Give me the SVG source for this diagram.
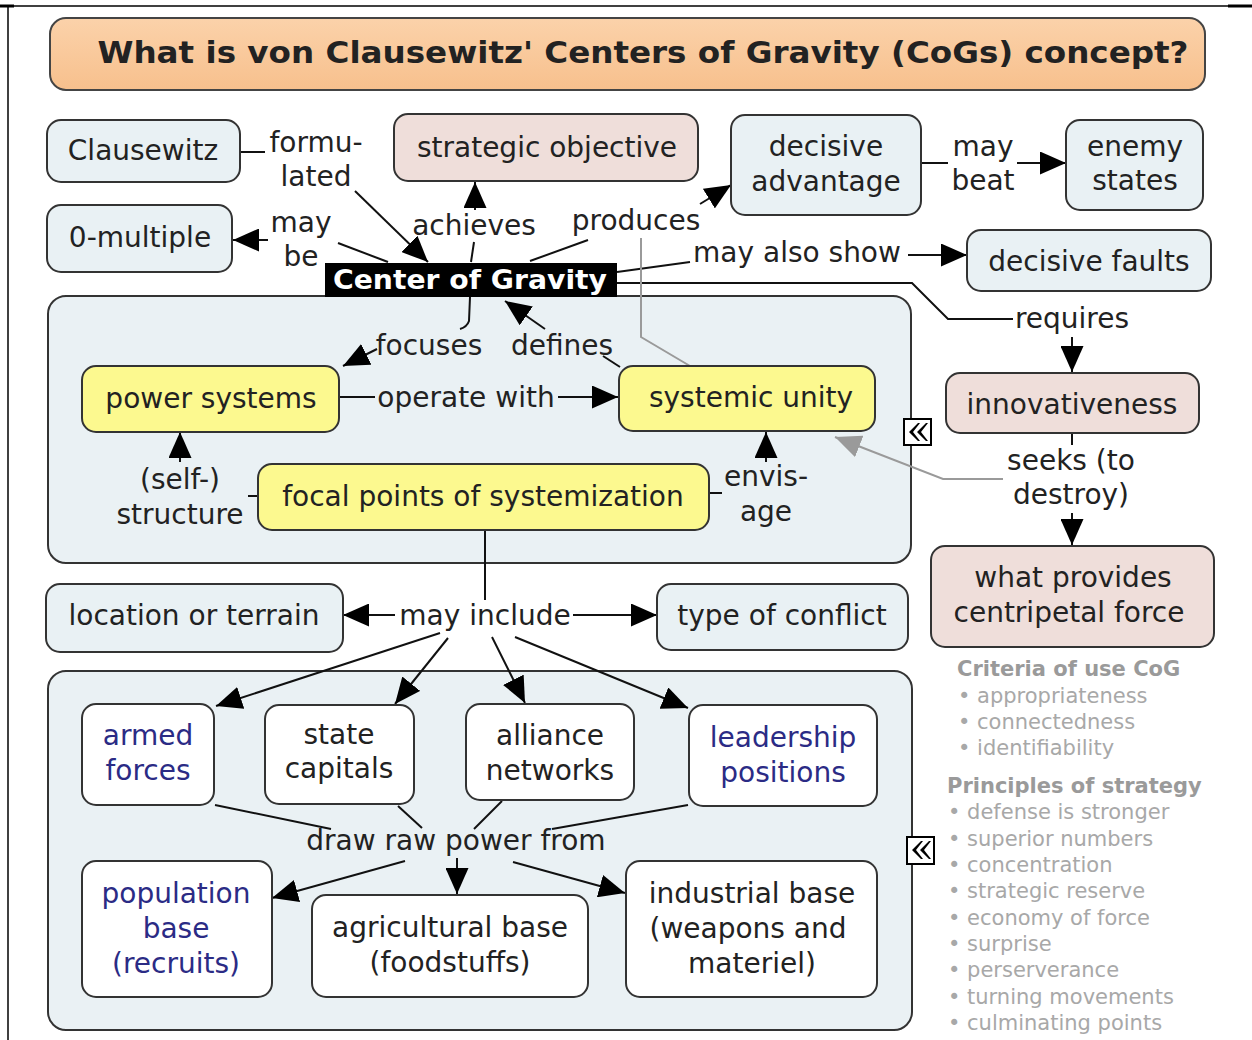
<svg xmlns="http://www.w3.org/2000/svg" width="1252" height="1040" viewBox="0 0 1252 1040">
<style>
text{font-family:"DejaVu Sans","Verdana",sans-serif;font-size:28px;fill:#222;text-anchor:middle;dominant-baseline:central}
.n rect{stroke:#333;stroke-width:2}
.blue{fill:#e9f1f4}
.pink{fill:#efdeda}
.yel{fill:#fcf98f}
.wht{fill:#fff}
.navy{fill:#2b2b85}
.c path{fill:none;stroke:#111;stroke-width:2}
.c path.a{marker-end:url(#ah)}
.c path.g{stroke:#9a9a9a}
.c path.ga{stroke:#9a9a9a;marker-end:url(#gh)}
.side text{text-anchor:start;font-size:21px;fill:#a8a8a8}
.side text.h{font-weight:bold;fill:#9a9a9a}
</style>
<defs>
<marker id="ah" viewBox="0 0 10 10" refX="10" refY="5" markerWidth="26" markerHeight="23" markerUnits="userSpaceOnUse" orient="auto" preserveAspectRatio="none"><path d="M0,0 L10,5 L0,10 z" fill="#000"/></marker>
<marker id="gh" viewBox="0 0 10 10" refX="10" refY="5" markerWidth="26" markerHeight="23" markerUnits="userSpaceOnUse" orient="auto" preserveAspectRatio="none"><path d="M0,0 L10,5 L0,10 z" fill="#9a9a9a"/></marker>
<linearGradient id="tg" x1="0" y1="0" x2="0" y2="1"><stop offset="0" stop-color="#fbd2aa"/><stop offset="1" stop-color="#f7c08d"/></linearGradient>
</defs>
<rect width="1252" height="1040" fill="#fff"/>
<g id="frame" stroke="#000">
<line x1="0" y1="6" x2="1252" y2="6" stroke-width="1.5"/>
<line x1="0" y1="6" x2="14" y2="6" stroke-width="3"/>
<line x1="1228" y1="6" x2="1252" y2="6" stroke-width="3"/>
<line x1="8" y1="6" x2="8" y2="1040" stroke-width="1.5"/>
</g>
<g id="title">
<rect x="50" y="18" width="1155" height="72" rx="16" fill="url(#tg)" stroke="#444" stroke-width="2"/>
<text x="643" y="52" style="font-weight:bold;font-size:30px" textLength="1091" lengthAdjust="spacingAndGlyphs">What is von Clausewitz' Centers of Gravity (CoGs) concept?</text>
</g>
<g id="group-upper"><rect x="48" y="296" width="863" height="267" rx="18" fill="#eaf1f4" stroke="#333" stroke-width="2"/></g>
<g id="group-lower"><rect x="48" y="671" width="864" height="359" rx="18" fill="#eaf1f4" stroke="#333" stroke-width="2"/></g>

<g class="c" id="connectors">
<path d="M240,152 L265,152"/>
<path class="a" d="M355,191 L428,262"/>
<path d="M388,262 L338,243"/>
<path class="a" d="M268,240 L233,240"/>
<path d="M471,262 L474,242"/>
<path class="a" d="M475,210 L475,182"/>
<path d="M530,261 L588,240"/>
<path class="a" d="M700,204 L731,185"/>
<path d="M921,163 L948,163"/>
<path class="a" d="M1017,163 L1066,163"/>
<path d="M617,272 L690,262"/>
<path class="a" d="M908,255 L967,255"/>
<path d="M617,283 L912,283 L948,319 L1013,319"/>
<path class="a" d="M1072,337 L1072,372"/>
<path d="M1072,433 L1072,445"/>
<path class="a" d="M1072,513 L1072,545"/>
<path class="ga" d="M1003,479 L943,479 L835,437"/>
<path class="g" d="M641,238 L641,337 L690,366"/>
<path d="M470,297 L469,321 Q467,327 460,329"/>
<path class="a" d="M377,349 L343,366"/>
<path class="a" d="M545,329 L505,301"/>
<path d="M603,356 L620,367"/>
<path d="M339,397 L375,397"/>
<path class="a" d="M558,397 L618,397"/>
<path d="M258,496 L248,496"/>
<path class="a" d="M180,462 L180,432"/>
<path d="M709,493 L722,493"/>
<path class="a" d="M766,462 L766,432"/>
<path d="M485,530 L485,600"/>
<path class="a" d="M395,615 L343,615"/>
<path class="a" d="M573,615 L657,615"/>
<path class="a" d="M440,633 L216,706"/>
<path class="a" d="M448,638 L395,704"/>
<path class="a" d="M492,637 L525,703"/>
<path class="a" d="M515,637 L688,708"/>
<path d="M215,805 L331,829"/>
<path d="M398,806 L422,828"/>
<path d="M502,801 L474,829"/>
<path d="M688,805 L552,829"/>
<path class="a" d="M405,861 L272,898"/>
<path class="a" d="M457,858 L457,894"/>
<path class="a" d="M513,862 L625,893"/>
</g>

<g id="labels">
<text x="316" y="142">formu-</text><text x="316" y="176">lated</text>
<text x="301" y="222">may</text><text x="301" y="256">be</text>
<text x="474" y="225">achieves</text>
<text x="636" y="220">produces</text>
<text x="983" y="146">may</text><text x="983" y="180">beat</text>
<text x="797" y="252">may also show</text>
<text x="1072" y="318">requires</text>
<text x="1071" y="460">seeks (to</text><text x="1071" y="494">destroy)</text>
<text x="429" y="345">focuses</text>
<text x="562" y="345">defines</text>
<text x="466" y="397">operate with</text>
<text x="180" y="479">(self-)</text><text x="180" y="514">structure</text>
<text x="766" y="476">envis-</text><text x="766" y="511">age</text>
<text x="485" y="615">may include</text>
<text x="456" y="840">draw raw power from</text>
</g>

<g class="n" id="clausewitz"><rect class="blue" x="47" y="120" width="193" height="62" rx="14"/><text x="143" y="150">Clausewitz</text></g>
<g class="n" id="strategic-objective"><rect class="pink" x="394" y="114" width="304" height="67" rx="14"/><text x="547" y="147">strategic objective</text></g>
<g class="n" id="decisive-advantage"><rect class="blue" x="731" y="115" width="190" height="100" rx="14"/><text x="826" y="146">decisive</text><text x="826" y="181">advantage</text></g>
<g class="n" id="enemy-states"><rect class="blue" x="1066" y="120" width="137" height="90" rx="14"/><text x="1135" y="146">enemy</text><text x="1135" y="180">states</text></g>
<g class="n" id="zero-multiple"><rect class="blue" x="47" y="205" width="185" height="67" rx="14"/><text x="140" y="237">0-multiple</text></g>
<g id="center-of-gravity"><rect x="325" y="263" width="292" height="34" fill="#000"/><text x="470" y="280" style="fill:#fff;font-weight:bold;font-size:26px" textLength="274" lengthAdjust="spacingAndGlyphs">Center of Gravity</text></g>
<g class="n" id="decisive-faults"><rect class="blue" x="967" y="230" width="244" height="61" rx="14"/><text x="1089" y="261">decisive faults</text></g>
<g class="n" id="power-systems"><rect class="yel" x="82" y="366" width="257" height="66" rx="14"/><text x="211" y="398">power systems</text></g>
<g class="n" id="systemic-unity"><rect class="yel" x="619" y="366" width="256" height="65" rx="14"/><text x="751" y="397">systemic unity</text></g>
<g class="n" id="focal-points"><rect class="yel" x="258" y="464" width="451" height="66" rx="14"/><text x="483" y="496">focal points of systemization</text></g>
<g class="n" id="innovativeness"><rect class="pink" x="946" y="373" width="253" height="60" rx="14"/><text x="1072" y="404">innovativeness</text></g>
<g class="n" id="centripetal-force"><rect class="pink" x="931" y="546" width="283" height="101" rx="14"/><text x="1073" y="577">what provides</text><text x="1069" y="612">centripetal force</text></g>
<g class="n" id="location-terrain"><rect class="blue" x="46" y="584" width="297" height="68" rx="14"/><text x="194" y="615">location or terrain</text></g>
<g class="n" id="type-of-conflict"><rect class="blue" x="657" y="584" width="251" height="66" rx="14"/><text x="782" y="615">type of conflict</text></g>
<g class="n" id="armed-forces"><rect class="wht" x="82" y="704" width="132" height="101" rx="14"/><text class="navy" x="148" y="735">armed</text><text class="navy" x="148" y="770">forces</text></g>
<g class="n" id="state-capitals"><rect class="wht" x="265" y="705" width="149" height="99" rx="14"/><text x="339" y="734">state</text><text x="339" y="768">capitals</text></g>
<g class="n" id="alliance-networks"><rect class="wht" x="466" y="704" width="168" height="96" rx="14"/><text x="550" y="735">alliance</text><text x="550" y="770">networks</text></g>
<g class="n" id="leadership-positions"><rect class="wht" x="689" y="705" width="188" height="101" rx="14"/><text class="navy" x="783" y="737">leadership</text><text class="navy" x="783" y="772">positions</text></g>
<g class="n" id="population-base"><rect class="wht" x="82" y="861" width="190" height="136" rx="14"/><text class="navy" x="176" y="893">population</text><text class="navy" x="176" y="928">base</text><text class="navy" x="176" y="963">(recruits)</text></g>
<g class="n" id="agricultural-base"><rect class="wht" x="312" y="895" width="276" height="102" rx="14"/><text x="450" y="927">agricultural base</text><text x="450" y="962">(foodstuffs)</text></g>
<g class="n" id="industrial-base"><rect class="wht" x="626" y="861" width="251" height="136" rx="14"/><text x="752" y="893">industrial base</text><text x="748" y="928">(weapons and</text><text x="752" y="963">materiel)</text></g>

<g id="icon-upper">
<rect x="904" y="419" width="27" height="26" fill="#fff" stroke="#000" stroke-width="2"/>
<path d="M918,423 L909,432 L918,441 L920,441 L913,432 L920,423 z M926,423 L917,432 L926,441 L928,441 L921,432 L928,423 z" fill="#000"/>
</g>
<g id="icon-lower">
<rect x="907" y="837" width="27" height="27" fill="#fff" stroke="#000" stroke-width="2"/>
<path d="M921,841 L912,850 L921,859 L923,859 L916,850 L923,841 z M929,841 L920,850 L929,859 L931,859 L924,850 L931,841 z" fill="#000"/>
</g>

<g class="side" id="side-notes">
<text class="h" x="957" y="669">Criteria of use CoG</text>
<text x="958" y="696">• appropriateness</text>
<text x="958" y="722">• connectedness</text>
<text x="958" y="748">• identifiability</text>
<text class="h" x="947" y="786">Principles of strategy</text>
<text x="948" y="812">• defense is stronger</text>
<text x="948" y="839">• superior numbers</text>
<text x="948" y="865">• concentration</text>
<text x="948" y="891">• strategic reserve</text>
<text x="948" y="918">• economy of force</text>
<text x="948" y="944">• surprise</text>
<text x="948" y="970">• perserverance</text>
<text x="948" y="997">• turning movements</text>
<text x="948" y="1023">• culminating points</text>
</g>
</svg>
